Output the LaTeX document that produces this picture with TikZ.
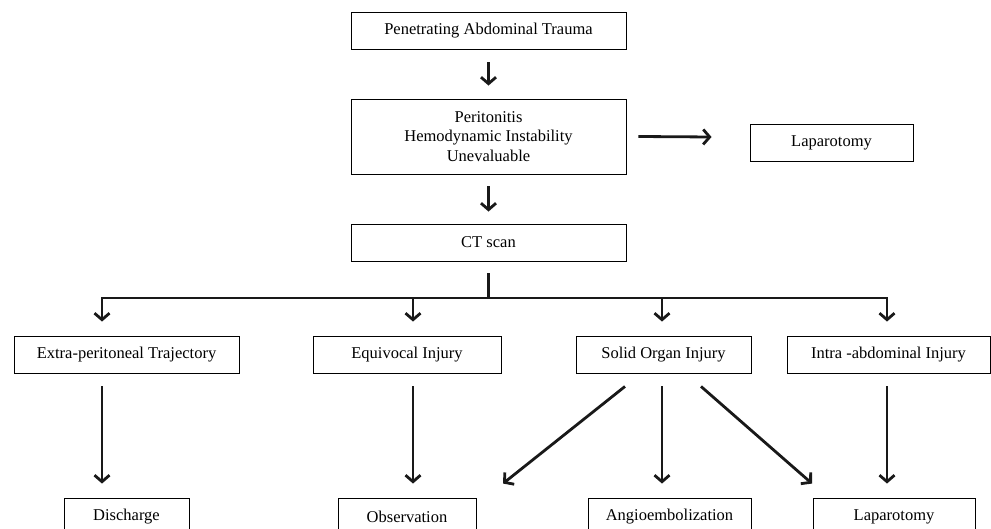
\documentclass[tikz,border=0pt]{standalone}
\usepackage{fontspec}
\setmainfont{Liberation Serif}
\usetikzlibrary{arrows.meta}
\begin{document}
\begin{tikzpicture}[x=1pt,y=-1pt,
  box/.style={draw, line width=0.9pt, inner sep=0pt, align=center,
    font=\fontsize{16.5}{19.5}\selectfont, text=black},
  arr/.style={line width=2.8pt, draw=black!90, -{Straight Barb[length=6.5pt,width=15pt]}},
  ln/.style={line width=2.8pt, draw=black!90}]
\useasboundingbox (0,0) rectangle (991,529);
\node[box, minimum width=275, minimum height=37] (b1) at (488.5,30.5) {Penetrating Abdominal Trauma};
\node[box, minimum width=275, minimum height=75] (b2) at (488.5,136.5) {Peritonitis\\Hemodynamic Instability\\Unevaluable};
\node[box, minimum width=275, minimum height=37] (ct) at (488.5,242.5) {CT scan};
\node[box, minimum width=163, minimum height=37] (lap1) at (831.5,142.5) {Laparotomy};
\node[box, minimum width=225, minimum height=37] (extra) at (126.5,354.5) {Extra-peritoneal Trajectory};
\node[box, minimum width=188, minimum height=37] (equiv) at (407,354.5) {Equivocal Injury};
\node[box, minimum width=175, minimum height=37] (solid) at (663.5,354.5) {Solid Organ Injury};
\node[box, minimum width=203, minimum height=37] (intra) at (888.5,354.5) {Intra -abdominal Injury};
\node[box, minimum width=125, minimum height=37] (dis) at (126.5,516.5) {Discharge};
\node[box, minimum width=138, minimum height=37] (obs) at (407,516.5) {Observation};
\node[box, minimum width=163, minimum height=37] (angio) at (669.5,516.5) {Angioembolization};
\node[box, minimum width=162, minimum height=37] (lap2) at (894,516.5) {Laparotomy};
\coordinate (j) at (488.5,298);
\draw[arr] ([yshift=-13]b1.south) -- ([yshift=13]b2.north);
\draw[arr] ([yshift=-12]b2.south) -- ([yshift=12]ct.north);
\draw[arr] ([xshift=12]b2.east) -- ([xshift=-38,yshift=5.5]lap1.west);
\draw[ln] ([yshift=-12]ct.south) -- (j);
\draw[arr] (j) -- (887,298) -- ([xshift=-1.5,yshift=14]intra.north);
\draw[arr] (j) -- (102,298) -- ([xshift=-24.5,yshift=14]extra.north);
\draw[arr] (413,298) -- ([xshift=6,yshift=14]equiv.north);
\draw[arr] (662,298) -- ([xshift=-1.5,yshift=14]solid.north);
\draw[arr] ([xshift=-24.5,yshift=-13]extra.south) -- ([xshift=-24.5,yshift=14]dis.north);
\draw[arr] ([xshift=6,yshift=-13]equiv.south) -- ([xshift=6,yshift=14]obs.north);
\draw[arr] ([xshift=-1.5,yshift=-13]solid.south) -- ([xshift=-7.5,yshift=14]angio.north);
\draw[arr] ([xshift=-1.5,yshift=-13]intra.south) -- ([xshift=-7,yshift=14]lap2.north);
\draw[arr] ([xshift=-38.5,yshift=-13]solid.south) -- ([xshift=96,yshift=14]obs.north);
\draw[arr] ([xshift=37.5,yshift=-13]solid.south) -- ([xshift=-82,yshift=14]lap2.north);
\end{tikzpicture}
\end{document}
